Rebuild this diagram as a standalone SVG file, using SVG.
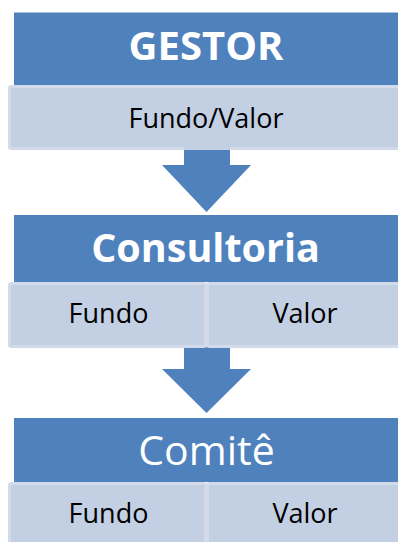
<svg xmlns="http://www.w3.org/2000/svg" width="398" height="542" viewBox="0 0 398 542">
<style>
.hdr{fill:#4f81bd}
.box{fill:#c3cfe3;stroke:#d3dbea;stroke-width:3}
.arr{fill:#4f81bd}
.t{font-family:"Open Sans","Liberation Sans",sans-serif;text-anchor:middle}
.w{fill:#ffffff}
.k{fill:#000000}
.s{font-size:27px}
</style>
<rect width="398" height="542" fill="#ffffff"/>
<g id="connectors">
<polygon class="arr" points="184,148 230,148 230,165 251,165 206.5,212 162,165 184,165"/>
<polygon class="arr" points="184,347 230,347 230,369 251,369 206.5,413 162,369 184,369"/>
</g>
<g id="gestor">
<rect class="hdr" x="14" y="12.5" width="400" height="72.5"/>
<text class="t w" x="206" y="60" font-size="40" font-weight="bold">GESTOR</text>
</g>
<g id="gestor-sub">
<rect class="box" x="9.5" y="86.5" width="400" height="62" rx="2"/>
<rect x="184" y="140" width="46" height="10" fill="#c3cfe3"/>
<text class="t k s" x="206" y="128">Fundo/Valor</text>
</g>
<g id="consultoria">
<rect class="hdr" x="14" y="215" width="400" height="67"/>
<text class="t w" x="205.5" y="262" font-size="39.5" font-weight="bold">Consultoria</text>
</g>
<g id="consultoria-fundo">
<rect class="box" x="9.5" y="283.5" width="196" height="63" rx="2"/>
<text class="t k s" x="108.5" y="323">Fundo</text>
</g>
<g id="consultoria-valor">
<rect class="box" x="207.5" y="283.5" width="200" height="63" rx="2"/>
<text class="t k s" x="305" y="323">Valor</text>
</g>
<g id="comite">
<rect class="hdr" x="14" y="418" width="400" height="64"/>
<text class="t w" x="206.5" y="465" font-size="41">Comitê</text>
</g>
<g id="comite-fundo">
<rect class="box" x="9.5" y="483.5" width="196" height="70" rx="2"/>
<text class="t k s" x="108.5" y="523">Fundo</text>
</g>
<g id="comite-valor">
<rect class="box" x="207.5" y="483.5" width="200" height="70" rx="2"/>
<text class="t k s" x="305" y="523">Valor</text>
</g>
</svg>
